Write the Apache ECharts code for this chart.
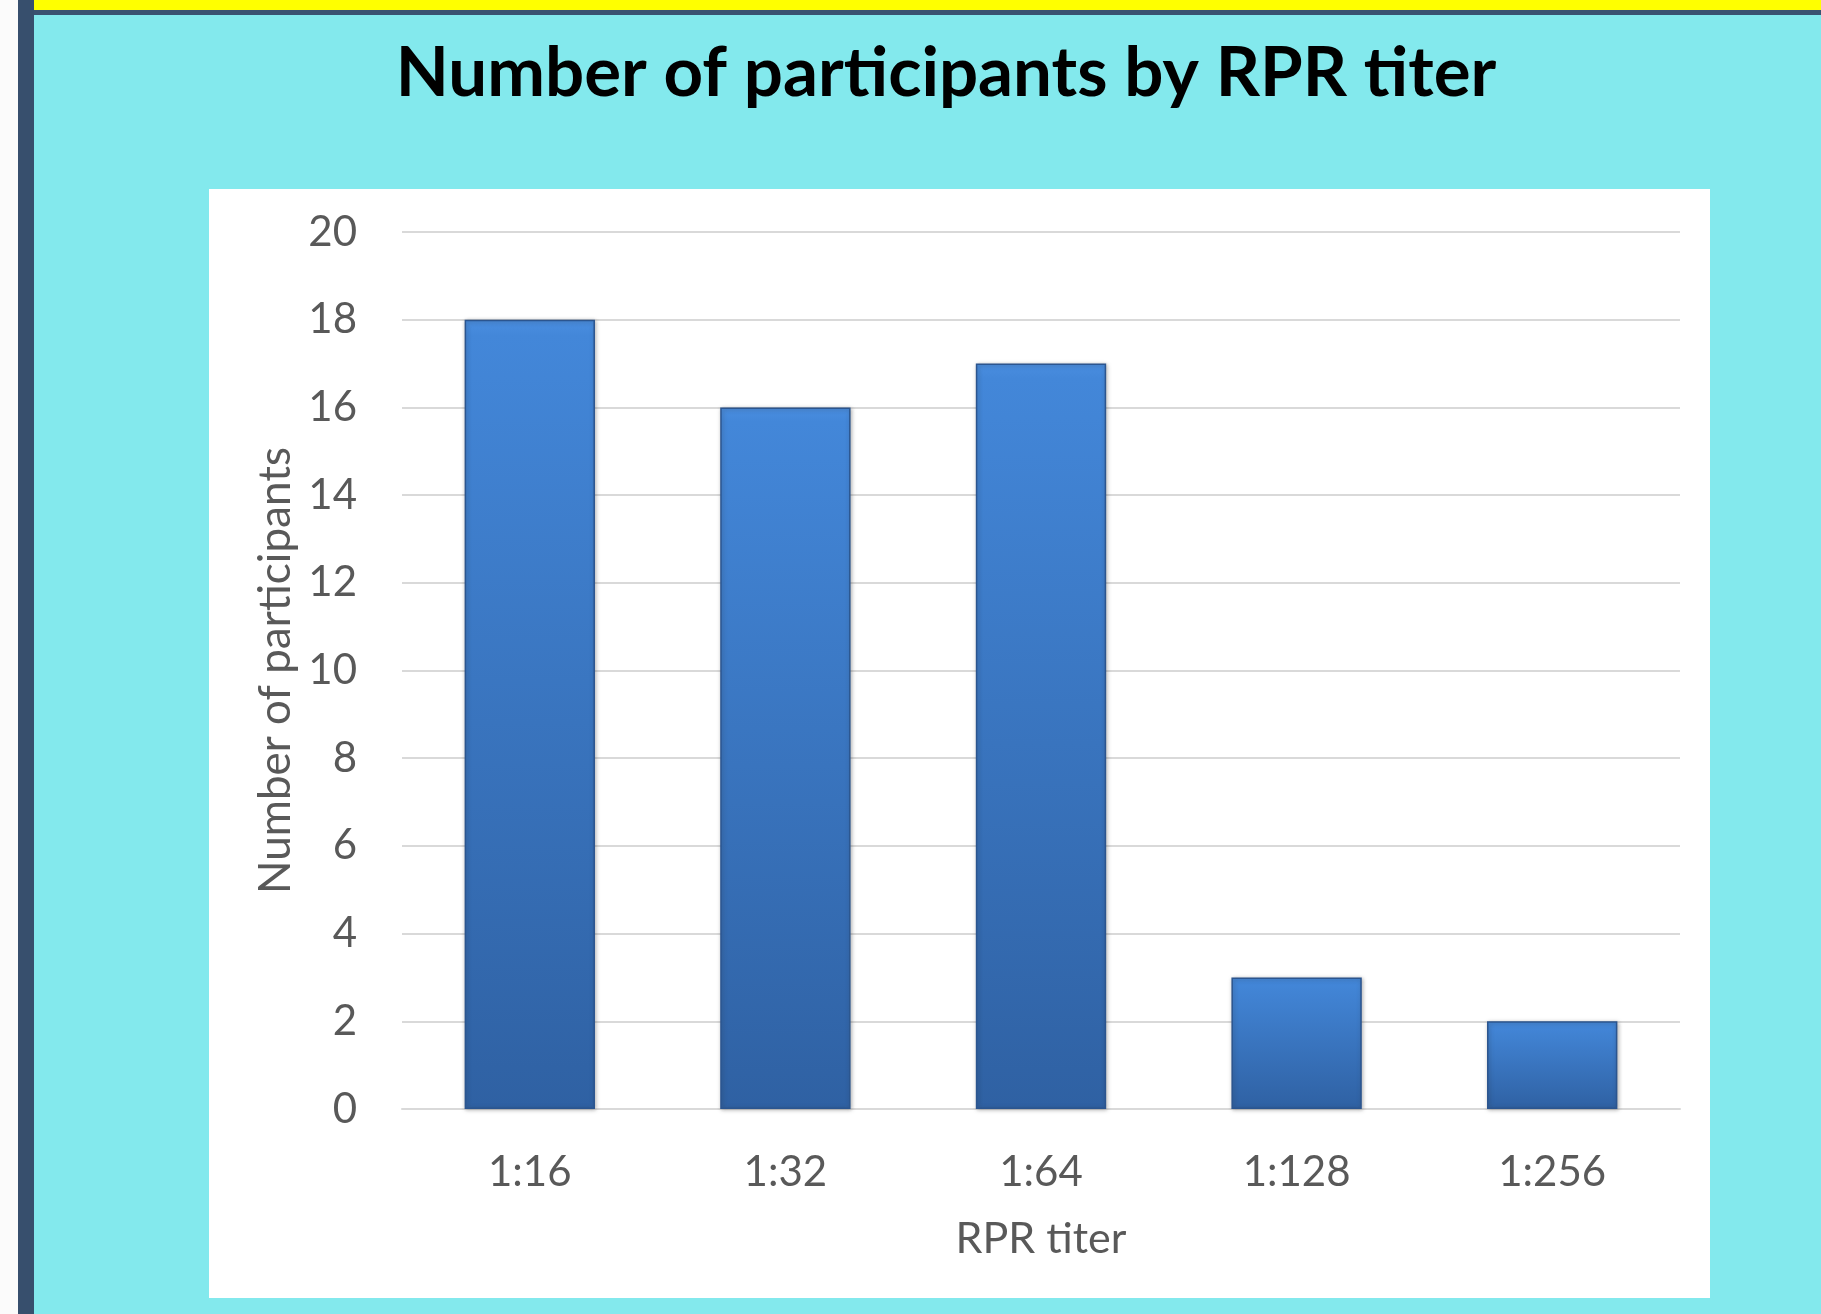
<!DOCTYPE html>
<html>
<head>
<meta charset="utf-8">
<script src="https://cdn.jsdelivr.net/npm/echarts@6/dist/echarts.min.js"></script>
<style>
    html, body { margin: 0; padding: 0; }
    body { width: 1821px; height: 1314px; background: #fbfbfb; position: relative; overflow: hidden; }
    #edge-left { position: absolute; left: 18px; top: 0; width: 16px; height: 1314px; background: #374f6d; }
    #edge-top { position: absolute; left: 34px; top: 0; right: 0; height: 10px; background: #ffff00; }
    #edge-line { position: absolute; left: 34px; top: 10px; right: 0; height: 5px; background: #3a5270; }
    #slide { position: absolute; left: 34px; top: 15px; right: 0; bottom: 0; background: #83e9ed; }
    #panel { position: absolute; left: 209px; top: 189px; width: 1501px; height: 1109px; background: #ffffff; }
    #chart { position: absolute; left: 0; top: 0; width: 1821px; height: 1314px; }
</style>
</head>
<body>
<div id="edge-left"></div>
<div id="edge-top"></div>
<div id="edge-line"></div>
<div id="slide"></div>
<div id="panel"></div>
<div id="chart"></div>
<script>
(function(win) {

    var titers = ['1:16', '1:32', '1:64', '1:128', '1:256'],
        participants = [18, 16, 17, 3, 2],
        yTicks = { min: 0, max: 20, interval: 2 };

    var textFont = 'Lato, "Open Sans", sans-serif',
        labelColor = '#595959',
        gridColor = '#d9d9d9';

    var barStyle = {
        color: {
            type: 'linear', x: 0, y: 0, x2: 0, y2: 1,
            colorStops: [
                { offset: 0, color: '#4a8ee0' },
                { offset: 0.02, color: '#4387d9' },
                { offset: 1, color: '#2f61a3' }
            ]
        },
        borderColor: '#2b558f',
        borderWidth: 1.5,
        shadowBlur: 4,
        shadowColor: 'rgba(40, 40, 40, 0.35)',
        shadowOffsetX: 1,
        shadowOffsetY: 1
    };

    var chart = echarts.init(document.getElementById('chart'), null, { renderer: 'canvas' });

    chart.setOption({
        backgroundColor: 'transparent',
        animation: false,
        title: {
            text: 'Number of participants by RPR titer',
            left: 941,
            top: 34,
            textAlign: 'center',
            textStyle: {
                fontFamily: textFont,
                fontWeight: 'bold',
                fontSize: 69,
                color: '#000000'
            }
        },
        grid: {
            left: 402,
            right: 141,
            top: 232,
            bottom: 205,
            containLabel: false
        },
        xAxis: {
            type: 'category',
            data: titers,
            name: 'RPR titer',
            nameLocation: 'middle',
            nameGap: 109,
            nameTextStyle: { fontFamily: textFont, fontSize: 43, color: labelColor },
            axisLine: { show: true, lineStyle: { color: gridColor, width: 2 } },
            axisTick: { show: false },
            axisLabel: { margin: 42, fontFamily: textFont, fontSize: 42, color: labelColor }
        },
        yAxis: {
            type: 'value',
            min: yTicks.min,
            max: yTicks.max,
            interval: yTicks.interval,
            name: 'Number of participants',
            nameLocation: 'middle',
            nameGap: 104,
            nameTextStyle: { fontFamily: textFont, fontSize: 44, color: labelColor },
            axisLine: { show: false },
            axisTick: { show: false },
            axisLabel: { margin: 45, fontFamily: textFont, fontSize: 42, color: labelColor },
            splitLine: { lineStyle: { color: gridColor, width: 2 } }
        },
        series: [{
            name: 'Participants',
            type: 'bar',
            data: participants,
            barWidth: '51%',
            itemStyle: barStyle
        }]
    });

}(this));
</script>
</body>
</html>
